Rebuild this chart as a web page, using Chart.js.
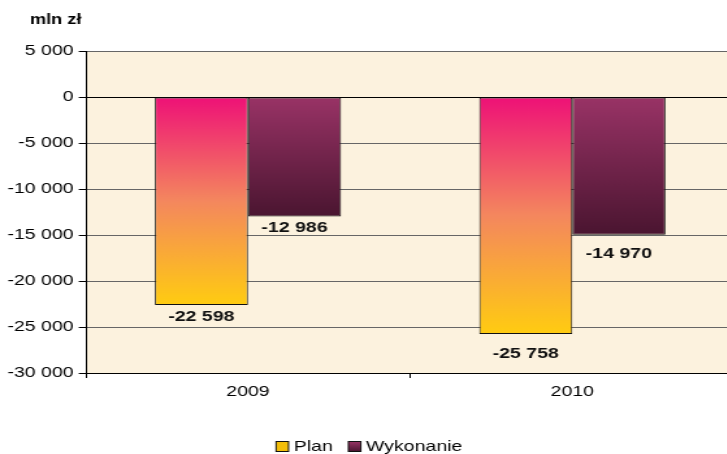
<!DOCTYPE html>
<html>
<head>
<meta charset="utf-8">
<script src="https://cdn.jsdelivr.net/npm/chart.js@4.4.1/dist/chart.umd.min.js"></script>
<style>
  html, body { margin: 0; padding: 0; background: #fff; }
  #wrap { width: 727px; height: 454px; overflow: hidden; position: relative; }
  /* the original picture is stretched sideways, so the whole chart is too */
  #stretch { width: 570px; height: 454px; transform: scaleX(1.3); transform-origin: 0 0; }
</style>
</head>
<body>
<div id="wrap"><div id="stretch"><canvas id="chart" width="570" height="454"></canvas></div></div>
<script>
const categories = ['2009', '2010'];
const seriesNames = ['Plan', 'Wykonanie'];
const planValues = [-22598, -25758];
const wykonanieValues = [-12986, -14970];
const yMin = -30000;
const yMax = 5000;
const yStep = 5000;
const unitLabel = 'mln zł';

const FONT = '"Liberation Sans", Arial, Helvetica, sans-serif';
Chart.defaults.font.family = FONT;
Chart.defaults.font.size = 15;
Chart.defaults.color = '#000';

function fmt(n) {
  const s = String(Math.abs(Math.round(n))).replace(/\B(?=(\d{3})+(?!\d))/g, ' ');
  return (n < 0 ? '-' : '') + s;
}

const planStops = [[0, '#ee1177'], [0.5, '#f4875e'], [1, '#ffcc11']];
const wykStops = [[0, '#993366'], [1, '#4a1530']];

function barGradient(stops) {
  return (c) => {
    const chart = c.chart;
    if (!chart.chartArea || c.raw === undefined) return stops[stops.length - 1][1];
    const y0 = chart.scales.y.getPixelForValue(0);
    const y1 = chart.scales.y.getPixelForValue(c.raw);
    const g = chart.ctx.createLinearGradient(0, y0, 0, y1);
    stops.forEach(s => g.addColorStop(s[0], s[1]));
    return g;
  };
}

const plotBackground = {
  id: 'plotBackground',
  beforeDraw(chart) {
    const { ctx, chartArea: a } = chart;
    ctx.save();
    ctx.fillStyle = '#fcf2de';
    ctx.fillRect(a.left, a.top, a.right - a.left, a.bottom - a.top);
    ctx.restore();
  }
};

const valueLabels = {
  id: 'valueLabels',
  afterDatasetsDraw(chart, args, opts) {
    const ctx = chart.ctx;
    ctx.save();
    ctx.font = 'bold 15px ' + FONT;
    ctx.fillStyle = '#111';
    ctx.textAlign = 'center';
    ctx.textBaseline = 'middle';
    chart.data.datasets.forEach((ds, di) => {
      chart.getDatasetMeta(di).data.forEach((el, i) => {
        ctx.fillText(fmt(ds.data[i]), el.x, el.y + opts.offsets[i]);
      });
    });
    ctx.restore();
  }
};

const extras = {
  id: 'extras',
  afterDraw(chart) {
    const ctx = chart.ctx;
    ctx.save();
    // unit caption
    ctx.font = 'bold 14px ' + FONT;
    ctx.fillStyle = '#000';
    ctx.textBaseline = 'middle';
    ctx.textAlign = 'left';
    ctx.fillText(unitLabel, 23, 20);

    // legend
    ctx.font = '15px ' + FONT;
    const box = 9.6, gapBox = 4, gapItem = 12;
    const fills = [planStops, wykStops];
    const widths = seriesNames.map(n => box + gapBox + ctx.measureText(n).width);
    const total = widths.reduce((a, b) => a + b, 0) + gapItem;
    let x = 284 - total / 2;
    const yMid = 446.5;
    seriesNames.forEach((name, i) => {
      const g = ctx.createLinearGradient(0, yMid - 5, 0, yMid + 5);
      fills[i].forEach(s => g.addColorStop(s[0], s[1]));
      ctx.fillStyle = i === 0 ? '#f2be0a' : g;
      ctx.fillRect(x, yMid - 5, box, 10);
      ctx.strokeStyle = '#111';
      ctx.lineWidth = 1;
      ctx.strokeRect(x, yMid - 5, box, 10);
      ctx.fillStyle = '#000';
      ctx.fillText(name, x + box + gapBox, yMid);
      x += widths[i] + gapItem;
    });
    ctx.restore();
  }
};

new Chart(document.getElementById('chart'), {
  type: 'bar',
  data: {
    labels: categories,
    datasets: [
      {
        label: seriesNames[0],
        data: planValues,
        backgroundColor: barGradient(planStops),
        borderColor: '#111',
        borderWidth: 1,
        borderSkipped: false
      },
      {
        label: seriesNames[1],
        data: wykonanieValues,
        backgroundColor: barGradient(wykStops),
        borderColor: '#111',
        borderWidth: 1,
        borderSkipped: false
      }
    ]
  },
  options: {
    responsive: false,
    animation: false,
    layout: { padding: { top: 51, right: 5, bottom: 0, left: 0 } },
    datasets: { bar: { categoryPercentage: 0.574, barPercentage: 1 } },
    plugins: {
      legend: { display: false },
      tooltip: { enabled: false },
      valueLabels: { offsets: [11.5, 19.5] }
    },
    scales: {
      x: {
        afterFit(scale) { scale.height = 81; },
        grid: { drawOnChartArea: false, offset: true, tickLength: 5, tickColor: '#000' },
        border: { display: true, color: '#000', width: 1 },
        ticks: { padding: 5, font: { size: 15 }, color: '#000' }
      },
      y: {
        min: yMin,
        max: yMax,
        afterFit(scale) { scale.width = 66; },
        grid: {
          color: (c) => (c.tick && c.tick.value === 0 ? '#000' : '#666'),
          lineWidth: 1,
          tickLength: 5.4,
          tickColor: '#000'
        },
        border: { display: true, color: '#000', width: 1 },
        ticks: {
          stepSize: yStep,
          padding: 4,
          font: { size: 15 },
          color: '#000',
          callback: (v) => fmt(v)
        }
      }
    }
  },
  plugins: [plotBackground, valueLabels, extras]
});
</script>
</body>
</html>
